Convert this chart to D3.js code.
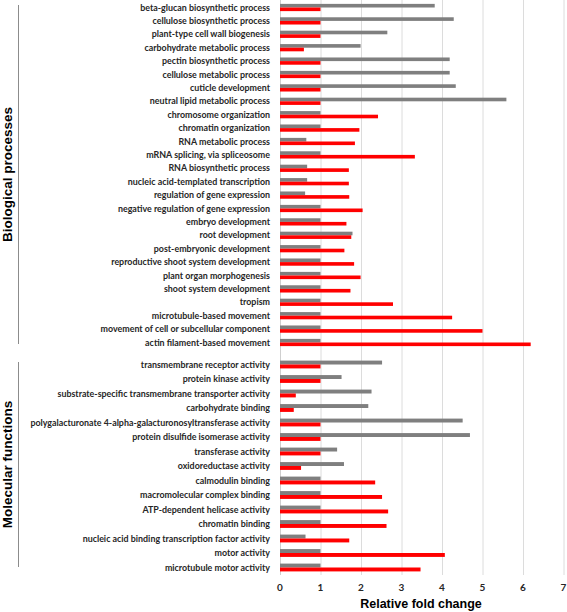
<!DOCTYPE html>
<html>
<head>
<meta charset="utf-8">
<script src="https://cdn.jsdelivr.net/npm/d3@7"></script>
<style>
  html, body { margin: 0; padding: 0; background: #fff; }
  svg { display: block; }
</style>
</head>
<body>
<svg id="chart" width="567" height="612"></svg>
<script>
const bpCategories = [
  "beta-glucan biosynthetic process",
  "cellulose biosynthetic process",
  "plant-type cell wall biogenesis",
  "carbohydrate metabolic process",
  "pectin biosynthetic process",
  "cellulose metabolic process",
  "cuticle development",
  "neutral lipid metabolic process",
  "chromosome organization",
  "chromatin organization",
  "RNA metabolic process",
  "mRNA splicing, via spliceosome",
  "RNA biosynthetic process",
  "nucleic acid-templated transcription",
  "regulation of gene expression",
  "negative regulation of gene expression",
  "embryo development",
  "root development",
  "post-embryonic development",
  "reproductive shoot system development",
  "plant organ morphogenesis",
  "shoot system development",
  "tropism",
  "microtubule-based movement",
  "movement of cell or subcellular component",
  "actin filament-based movement"
];
const bpGray = [3.82, 4.29, 2.65, 1.99, 4.19, 4.19, 4.34, 5.59, 1.0, 1.0, 0.65, 1.0, 0.67,
                0.67, 0.62, 1.0, 1.0, 1.79, 1.0, 1.0, 1.0, 1.0, 1.0, 1.0, 1.0, 1.0];
const bpRed  = [1.0, 1.0, 1.0, 0.59, 1.0, 1.0, 1.0, 1.0, 2.42, 1.96, 1.85, 3.33, 1.70,
                1.70, 1.71, 2.04, 1.64, 1.76, 1.59, 1.83, 1.99, 1.74, 2.79, 4.25, 5.0, 6.19];

const mfCategories = [
  "transmembrane receptor activity",
  "protein kinase activity",
  "substrate-specific transmembrane transporter activity",
  "carbohydrate binding",
  "polygalacturonate 4-alpha-galacturonosyltransferase activity",
  "protein disulfide isomerase activity",
  "transferase activity",
  "oxidoreductase activity",
  "calmodulin binding",
  "macromolecular complex binding",
  "ATP-dependent helicase activity",
  "chromatin binding",
  "nucleic acid binding transcription factor activity",
  "motor activity",
  "microtubule motor activity"
];
const mfGray = [2.52, 1.52, 2.26, 2.18, 4.51, 4.69, 1.41, 1.58, 1.0, 1.0, 1.0, 1.0, 0.63, 1.0, 1.0];
const mfRed  = [1.0, 1.0, 0.39, 0.34, 1.0, 1.0, 1.0, 0.52, 2.35, 2.52, 2.67, 2.63, 1.71, 4.07, 3.47];

const xTicks = [0, 1, 2, 3, 4, 5, 6, 7];
const groupTitles = ["Biological processes", "Molecular functions"];
const axisTitle = "Relative fold change";

const svg = d3.select("#chart");
const x = d3.scaleLinear().domain([0, 7]).range([280, 563.5]);

const labelFont = "Lato, 'Open Sans', sans-serif";
const gridTop = 0, gridBottom = 575;

// gridlines
svg.append("g").selectAll("line").data(xTicks).join("line")
  .attr("x1", d => x(d) + 0.5).attr("x2", d => x(d) + 0.5)
  .attr("y1", gridTop).attr("y2", gridBottom)
  .attr("stroke", d => d === 0 ? "#cfcfcf" : "#dcdcdc").attr("stroke-width", 1);

function panel(cats, gray, red, y0, y1, bracketY0, bracketY1, title) {
  const y = d3.scaleBand().domain(cats).range([y0, y1]).paddingInner(0).paddingOuter(0);
  const step = y.step();
  const barH = step * 0.27;
  const g = svg.append("g");
  const rows = g.selectAll("g.row").data(cats.map((c, i) => ({c, g: gray[i], r: red[i]})))
    .join("g").attr("class", "row")
    .attr("transform", d => `translate(0,${y(d.c) + step / 2})`);
  rows.append("rect")
    .attr("x", x(0)).attr("y", -barH)
    .attr("width", d => x(d.g) - x(0)).attr("height", barH)
    .attr("fill", "#7f7f7f");
  rows.append("rect")
    .attr("x", x(0)).attr("y", 0)
    .attr("width", d => x(d.r) - x(0)).attr("height", barH)
    .attr("fill", "#ff0000");
  rows.append("text")
    .attr("x", 270).attr("y", 0).attr("dy", "0.35em")
    .attr("text-anchor", "end")
    .attr("font-family", labelFont).attr("font-weight", "bold")
    .attr("font-size", "8.9px").attr("fill", "#262626")
    .text(d => d.c);
  // bracket
  g.append("line").attr("x1", 18.5).attr("x2", 18.5)
    .attr("y1", bracketY0).attr("y2", bracketY1)
    .attr("stroke", "#8c8c8c").attr("stroke-width", 1);
  const cy = (bracketY0 + bracketY1) / 2;
  g.append("text")
    .attr("transform", `translate(12,${cy}) rotate(-90)`)
    .attr("text-anchor", "middle")
    .attr("font-family", "'Liberation Sans', Arial, sans-serif")
    .attr("font-weight", "bold").attr("font-size", "13.5px").attr("fill", "#000")
    .text(title);
}

panel(bpCategories, bpGray, bpRed, 0.8, 349.2, 5, 344, groupTitles[0]);
panel(mfCategories, mfGray, mfRed, 357.25, 574.75, 362, 567, groupTitles[1]);

// x tick labels
svg.append("g").selectAll("text").data(xTicks).join("text")
  .attr("x", d => x(d)).attr("y", 591)
  .attr("text-anchor", "middle")
  .attr("font-family", labelFont).attr("font-weight", "bold")
  .attr("font-size", "10px").attr("fill", "#262626")
  .text(d => d);

svg.append("text")
  .attr("x", 421).attr("y", 608)
  .attr("text-anchor", "middle")
  .attr("font-family", "'Liberation Sans', Arial, sans-serif")
  .attr("font-weight", "bold").attr("font-size", "12.5px").attr("fill", "#000")
  .text(axisTitle);
</script>
</body>
</html>
